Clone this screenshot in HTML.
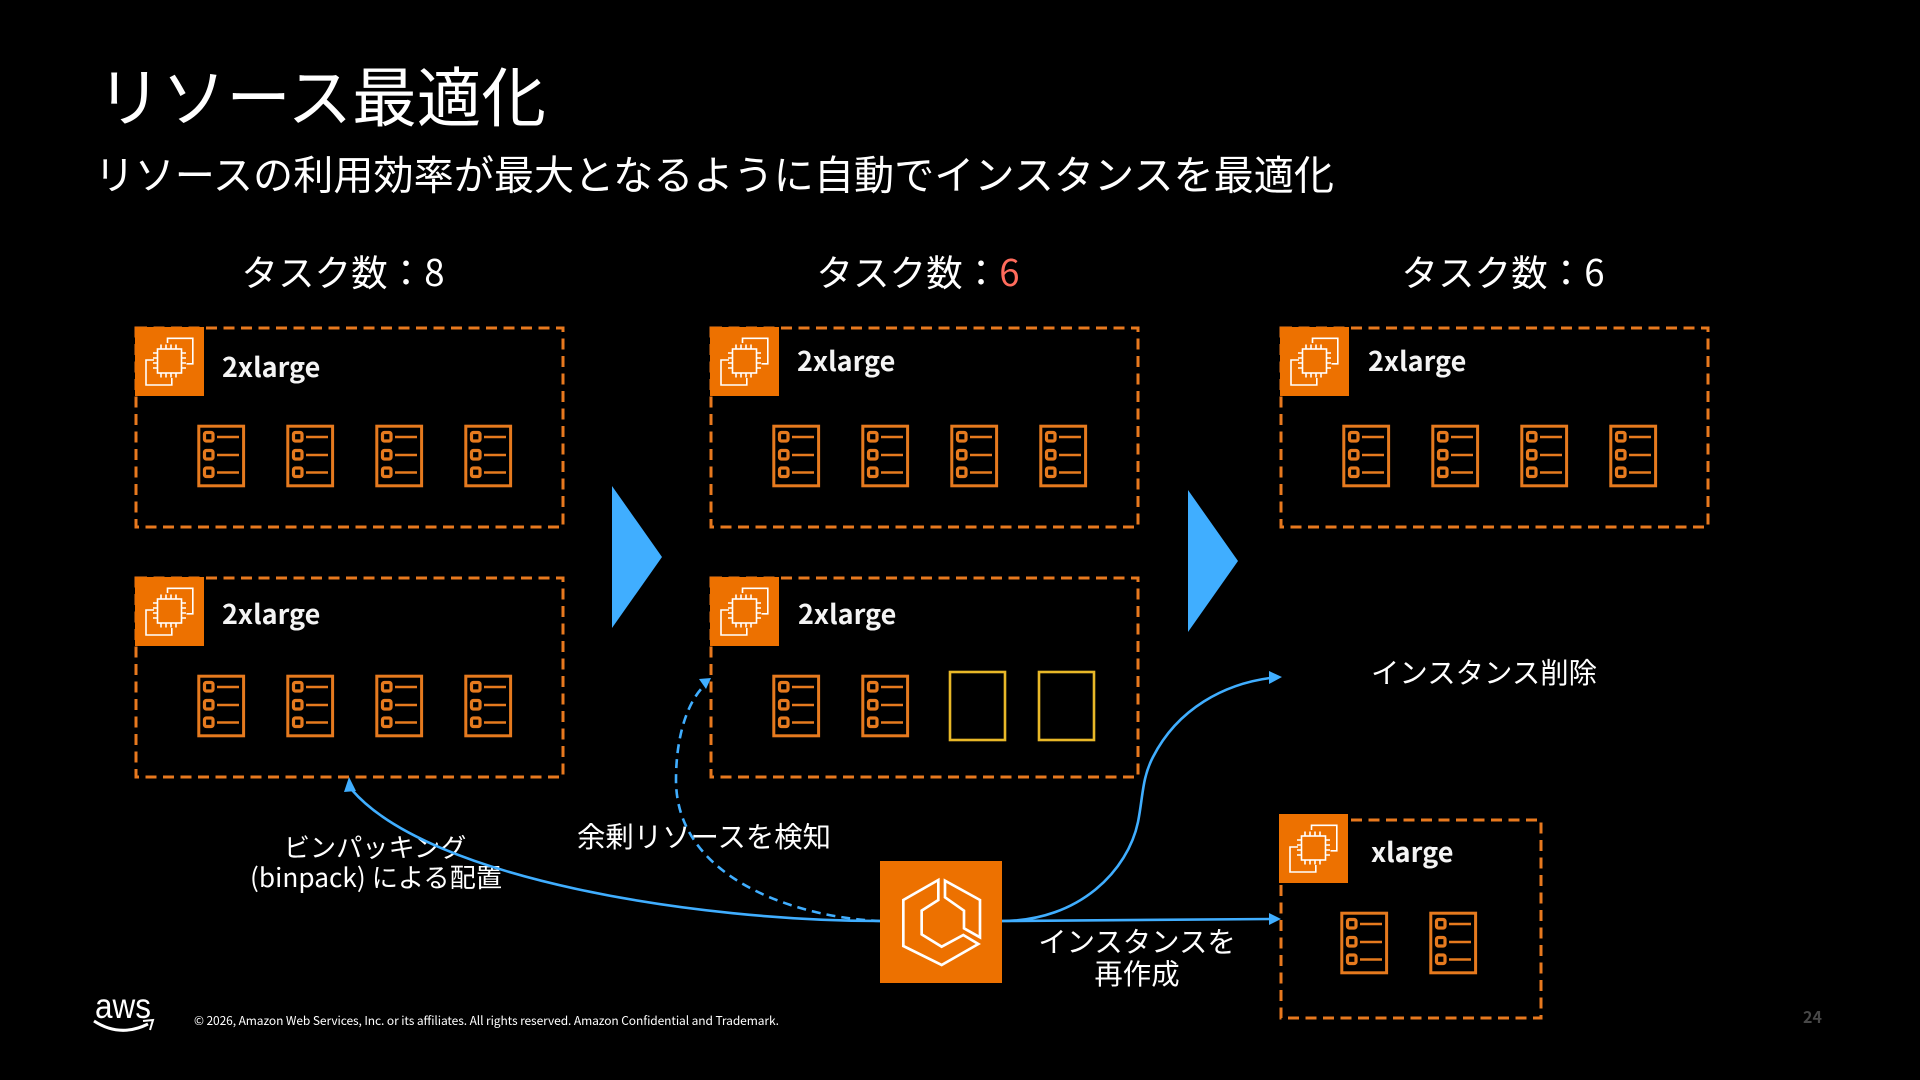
<!DOCTYPE html>
<html lang="ja"><head><meta charset="utf-8"><title>リソース最適化</title>
<style>
html,body{margin:0;padding:0;background:#000;width:1920px;height:1080px;overflow:hidden}
svg{display:block}
text{font-family:"Noto Sans CJK JP","Liberation Sans",sans-serif;fill:#fff;font-weight:400}
.b{font-weight:700;font-size:27px;fill:#f4f4f4}
.l{font-size:28.4px;text-anchor:middle}
.h{font-size:36.6px;text-anchor:middle}
</style></head><body>
<svg width="1920" height="1080" viewBox="0 0 1920 1080" xmlns="http://www.w3.org/2000/svg">
<defs>
<g id="task" fill="none" stroke="#e67a1e">
<rect x="0.8" y="1.2" width="44.800" height="59.6" stroke-width="3"/>
<rect x="6.500" y="7.500" width="8.500" height="8.500" rx="1.800" stroke-width="3.200"/>
<rect x="6.500" y="25.500" width="8.500" height="8.500" rx="1.800" stroke-width="3.200"/>
<rect x="6.500" y="43" width="8.500" height="8.500" rx="1.800" stroke-width="3.200"/>
<path d="M19 12H41M19 30H41M19 47.500H41" stroke-width="2.600"/>
</g>
<g id="ec2">
<rect width="69" height="69" fill="#ed7100"/>
<g fill="none" stroke="#fff" stroke-width="1.6">
<path d="M32.500 16V11.300H57.800V36.800H51.500"/>
<path d="M19 33H11V58H36.800V51"/>
<rect x="22.500" y="22" width="24" height="24"/>
<path d="M26 22V17.500M31 22V17.500M36 22V17.500M41 22V17.500M26 46V50.500M31 46V50.500M36 46V50.500M41 46V50.500M22.500 26H18M22.500 31H18M22.500 36H18M22.500 41H18M46.500 26H51M46.500 31H51M46.500 36H51M46.500 41H51"/>
</g></g>
</defs>
<rect width="1920" height="1080" fill="#000"/>

<text x="97" y="121" font-size="64.600">リソース最適化</text>
<text x="94.500" y="189.500" font-size="40.150">リソースの利用効率が最大となるように自動でインスタンスを最適化</text>

<text class="h" x="343" y="286">タスク数：8</text>
<text class="h" x="918" y="286">タスク数：<tspan fill="#ff6b5c">6</tspan></text>
<text class="h" x="1503" y="286">タスク数：6</text>

<g fill="none" stroke="#e8791e" stroke-width="3" stroke-dasharray="11 6.500">
<rect x="136" y="328" width="427" height="199"/>
<rect x="136" y="578" width="427" height="199"/>
<rect x="711" y="328" width="427" height="199"/>
<rect x="711" y="578" width="427" height="199"/>
<rect x="1281" y="328" width="427" height="199"/>
<rect x="1281" y="820" width="260" height="198"/>
</g>

<use href="#ec2" x="135" y="327"/>
<use href="#ec2" x="135" y="577"/>
<use href="#ec2" x="710" y="327"/>
<use href="#ec2" x="710" y="577"/>
<use href="#ec2" x="1280" y="327"/>
<use href="#ec2" x="1279" y="814"/>

<text class="b" x="222" y="377">2xlarge</text>
<text class="b" x="222" y="624">2xlarge</text>
<text class="b" x="797" y="371">2xlarge</text>
<text class="b" x="798" y="624">2xlarge</text>
<text class="b" x="1368" y="371">2xlarge</text>
<text class="b" x="1371" y="862">xlarge</text>

<use href="#task" x="198" y="425"/><use href="#task" x="287" y="425"/><use href="#task" x="376" y="425"/><use href="#task" x="465" y="425"/>
<use href="#task" x="198" y="675"/><use href="#task" x="287" y="675"/><use href="#task" x="376" y="675"/><use href="#task" x="465" y="675"/>
<use href="#task" x="773" y="425"/><use href="#task" x="862" y="425"/><use href="#task" x="951" y="425"/><use href="#task" x="1040" y="425"/>
<use href="#task" x="773" y="675"/><use href="#task" x="862" y="675"/>
<use href="#task" x="1343" y="425"/><use href="#task" x="1432" y="425"/><use href="#task" x="1521" y="425"/><use href="#task" x="1610" y="425"/>
<use href="#task" x="1341" y="912"/><use href="#task" x="1430" y="912"/>

<g fill="none" stroke="#e8b828" stroke-width="2.600">
<rect x="950" y="672" width="55" height="68"/>
<rect x="1039" y="672" width="55" height="68"/>
</g>

<polygon points="612,486 662,557 612,628" fill="#40aeff"/>
<polygon points="1188,490 1238,561 1188,632" fill="#40aeff"/>

<text class="l" x="375" y="857" style="font-size:26.200px">ビンパッキング</text>
<text class="l" x="376" y="887" style="font-size:26.200px" textLength="252">(binpack) による配置</text>
<text class="l" x="704" y="847">余剰リソースを検知</text>
<text class="l" x="1484" y="683">インスタンス削除</text>
<text class="l" x="1137" y="952">インスタンスを</text>
<text class="l" x="1137" y="984">再作成</text>

<g fill="none" stroke="#40aeff" stroke-width="2.600">
<path d="M880 921C700 921 430 880 352 790"/>
<path d="M880 921C800 918 676 880 676 780C676 735 688 700 706 684" stroke-dasharray="9 6"/>
<path d="M1002 921C1080 921 1128 870 1138 822C1143 797 1142 778 1153 757C1178 708 1225 684 1270 678"/>
<path d="M1002 921L1272 919"/>
</g>
<g fill="#40aeff">
<polygon points="349,777 356,791 344,792"/>
<polygon points="711,678 706,689 699,679"/>
<polygon points="1282,677 1269,671 1269,684"/>
<polygon points="1281,919 1269,913 1269,925"/>
</g>

<rect x="880" y="861" width="122" height="122" fill="#ed7100"/>
<g transform="translate(840 840) scale(.3333)" fill="none" stroke="#fff" stroke-width="8">
<path d="M295 120L190 180V318L305 375L415 312L370 285L305 320L245 283V212L295 180Z"/>
<path d="M315 122L420 180V292L372 265V212L315 172Z"/>
</g>

<text x="95" y="1018" style="font-family:'Liberation Sans',sans-serif;font-weight:400" font-size="35" textLength="56" lengthAdjust="spacingAndGlyphs">aws</text>
<path d="M94 1021Q120 1038 148 1024" fill="none" stroke="#fff" stroke-width="3"/>
<path d="M143 1021L153 1020L150 1030" fill="none" stroke="#fff" stroke-width="2"/>
<text x="194" y="1025" font-size="12" textLength="585">© 2026, Amazon Web Services, Inc. or its affiliates. All rights reserved. Amazon Confidential and Trademark.</text>
<text x="1803" y="1023" font-size="16" style="fill:#484848;font-weight:700">24</text>
</svg>
</body></html>
